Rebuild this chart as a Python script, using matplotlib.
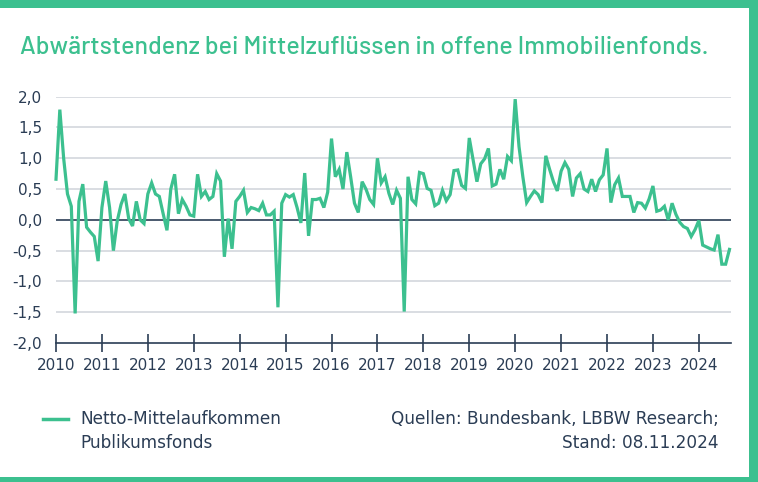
import numpy as np
import matplotlib
matplotlib.use('Agg')
import matplotlib.pyplot as plt
from matplotlib.patches import Rectangle

# Netto-Mittelaufkommen Publikumsfonds (Mrd. EUR), monatlich
y2010 = [0.66, 1.79, 1.0, 0.42, 0.22, -1.52, 0.3, 0.58, -0.12, -0.2, -0.27, -0.67]
y2011 = [0.2, 0.63, 0.2, -0.5, -0.02, 0.25, 0.42, 0.02, -0.1, 0.3, 0.0, -0.06]
y2012 = [0.42, 0.6, 0.42, 0.38, 0.1, -0.17, 0.5, 0.74, 0.1, 0.33, 0.22, 0.08]
y2013 = [0.06, 0.74, 0.38, 0.46, 0.33, 0.38, 0.75, 0.63, -0.6, 0.02, -0.47, 0.3]
y2014 = [0.38, 0.48, 0.12, 0.2, 0.18, 0.15, 0.27, 0.08, 0.08, 0.14, -1.42, 0.27]
y2015 = [0.41, 0.37, 0.41, 0.2, -0.05, 0.76, -0.26, 0.33, 0.33, 0.35, 0.2, 0.45]
y2016 = [1.32, 0.7, 0.82, 0.5, 1.1, 0.7, 0.27, 0.12, 0.62, 0.5, 0.33, 0.25]
y2017 = [1.0, 0.6, 0.7, 0.43, 0.25, 0.48, 0.35, -1.49, 0.7, 0.33, 0.26, 0.77]
y2018 = [0.75, 0.51, 0.48, 0.23, 0.27, 0.48, 0.31, 0.41, 0.8, 0.81, 0.56, 0.51]
y2019 = [1.33, 0.98, 0.62, 0.91, 0.99, 1.16, 0.55, 0.58, 0.82, 0.66, 1.03, 0.96]
y2020 = [1.96, 1.19, 0.7, 0.28, 0.38, 0.47, 0.41, 0.28, 1.04, 0.82, 0.62, 0.47]
y2021 = [0.79, 0.93, 0.82, 0.38, 0.68, 0.75, 0.5, 0.46, 0.66, 0.46, 0.65, 0.73]
y2022 = [1.16, 0.28, 0.57, 0.68, 0.38, 0.38, 0.38, 0.12, 0.28, 0.27, 0.19, 0.34]
y2023 = [0.55, 0.14, 0.16, 0.22, 0.0, 0.27, 0.09, -0.04, -0.11, -0.14, -0.27, -0.16]
y2024 = [-0.01, -0.41, -0.44, -0.47, -0.49, -0.24, -0.72, -0.72, -0.48]

jahre = list(range(2010, 2025))
y_ticks = [2.0, 1.5, 1.0, 0.5, 0.0, -0.5, -1.0, -1.5, -2.0]
y_labels = ['2,0', '1,5', '1,0', '0,5', '0,0', '-0,5', '-1,0', '-1,5', '-2,0']

werte = np.array(y2010 + y2011 + y2012 + y2013 + y2014 + y2015 + y2016 + y2017
                 + y2018 + y2019 + y2020 + y2021 + y2022 + y2023 + y2024)
zeit = 2010 + np.arange(len(werte)) / 12

GREEN = '#3cc08f'
NAVY = '#2b3d55'
GRID = '#d3d7dd'
TITLE_FONT = ['Barlow', 'DejaVu Sans']
TEXT_FONT = ['DejaVu Sans']

W, H = 758, 482
fig = plt.figure(figsize=(W / 100, H / 100), dpi=100)

# Rahmen
fig.add_artist(Rectangle((0, 1 - 8 / H), 1, 8 / H, transform=fig.transFigure, color=GREEN, lw=0))
fig.add_artist(Rectangle((1 - 9 / W, 0), 9 / W, 1, transform=fig.transFigure, color=GREEN, lw=0))
fig.add_artist(Rectangle((0, 0), 1, 5 / H, transform=fig.transFigure, color=GREEN, lw=0))

ax = fig.add_axes([56 / W, 1 - 343 / H, (731 - 56) / W, (343 - 96.7) / H])
ax.plot(zeit, werte, color=GREEN, lw=2.3, solid_joinstyle='miter', clip_on=False, zorder=3)

ax.set_xlim(2010, 2024.70)
ax.set_ylim(-2.0, 2.0)
for v in y_ticks:
    if v == 0:
        ax.axhline(0, color=NAVY, lw=1.2, zorder=2)
    elif v > -2:
        ax.axhline(v, color=GRID, lw=1.2, zorder=1)

ax.set_yticks(y_ticks)
ax.set_yticklabels(y_labels)
ax.set_xticks(jahre)
ax.set_xticklabels([str(j) for j in jahre])

for s in ['left', 'right', 'top']:
    ax.spines[s].set_visible(False)
ax.spines['bottom'].set_color(NAVY)
ax.spines['bottom'].set_linewidth(1.2)

ax.tick_params(axis='y', length=0, pad=10, labelsize=11, labelcolor=NAVY)
ax.tick_params(axis='x', direction='inout', length=13, width=1.2, color=NAVY,
               pad=4, labelsize=11, labelcolor=NAVY)
for lab in ax.get_xticklabels() + ax.get_yticklabels():
    lab.set_fontfamily('DejaVu Sans')

# Titel
fig.text(20 / W, 1 - 47 / H, 'Abwärtstendenz bei Mittelzuflüssen in offene Immobilienfonds.',
         fontsize=18, color=GREEN, family=TITLE_FONT, fontweight=500,
         va='center', ha='left')

# Legende
fig.add_artist(plt.Line2D([43 / W, 68 / W], [1 - 419 / H, 1 - 419 / H],
                          transform=fig.transFigure, color=GREEN, lw=2.5))
fig.text(80 / W, 1 - 419 / H, 'Netto-Mittelaufkommen', fontsize=12.2, color=NAVY,
         family=TEXT_FONT, va='center', ha='left')
fig.text(80 / W, 1 - 443 / H, 'Publikumsfonds', fontsize=12.2, color=NAVY,
         family=TEXT_FONT, va='center', ha='left')

# Quelle
fig.text(719 / W, 1 - 419 / H, 'Quellen: Bundesbank, LBBW Research;', fontsize=12.2, color=NAVY,
         family=TEXT_FONT, va='center', ha='right')
fig.text(719 / W, 1 - 443 / H, 'Stand: 08.11.2024', fontsize=12.2, color=NAVY,
         family=TEXT_FONT, va='center', ha='right')

fig.savefig('out.png', dpi=100)
